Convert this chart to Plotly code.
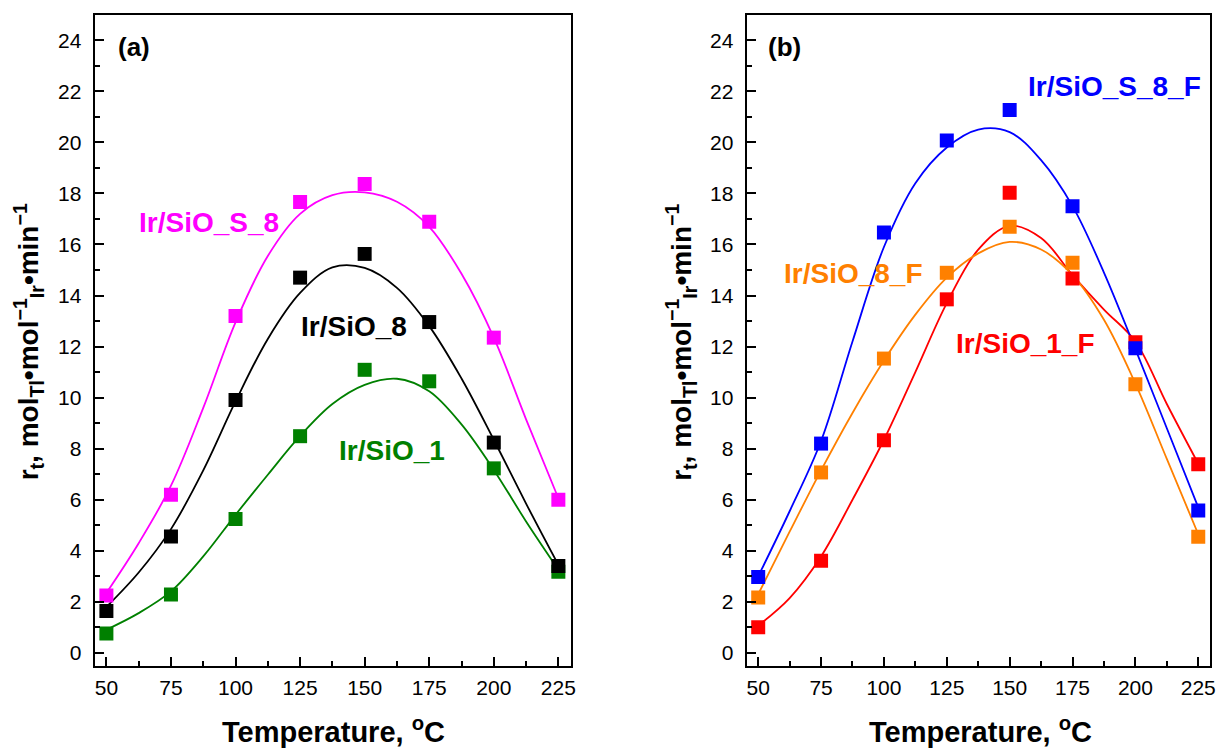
import plotly.graph_objects as go

# ---------------- data ----------------
temps = [50, 75, 100, 125, 150, 175, 200, 225]
fit_temps = [50, 62.5, 75, 87.5, 100, 112.5, 125, 137.5, 150, 162.5, 175, 187.5, 200, 212.5, 225]

# panel (a) measured points
ir_sio_s_8 = [2.25, 6.2, 13.2, 17.66, 18.37, 16.89, 12.35, 6.0]
ir_sio_8 = [1.64, 4.56, 9.91, 14.7, 15.63, 12.96, 8.24, 3.41]
ir_sio_1 = [0.76, 2.29, 5.25, 8.49, 11.09, 10.64, 7.23, 3.18]
# panel (a) fitted curves
fit_s_8 = [2.35, 4.3, 6.55, 9.6, 12.95, 15.55, 17.2, 17.93, 18.04, 17.67, 16.69, 14.85, 12.35, 9.15, 6.06]
fit_8 = [1.8, 3.15, 4.85, 7.15, 9.85, 12.3, 14.1, 15.1, 15.08, 14.3, 12.8, 10.75, 8.35, 5.85, 3.45]
fit_1 = [0.91, 1.56, 2.41, 3.78, 5.41, 6.98, 8.5, 9.75, 10.5, 10.74, 10.25, 8.95, 7.17, 5.15, 3.26]

# panel (b) measured points
ir_sio_s_8_f = [2.97, 8.2, 16.47, 20.07, 21.27, 17.5, 11.93, 5.58]
ir_sio_1_f = [1.01, 3.61, 8.33, 13.85, 18.02, 14.67, 12.17, 7.39]
ir_sio_8_f = [2.17, 7.07, 11.53, 14.89, 16.69, 15.28, 10.52, 4.55]
# panel (b) fitted curves
fit_s_8_f = [3.0, 5.55, 8.3, 12.2, 15.9, 18.4, 19.8, 20.5, 20.4, 19.3, 17.5, 14.9, 11.9, 8.8, 5.7]
fit_1_f = [1.07, 2.15, 3.78, 6.0, 8.35, 11.0, 13.7, 15.8, 16.73, 16.25, 14.8, 13.45, 12.2, 9.75, 7.41]
fit_8_f = [2.3, 4.75, 7.15, 9.4, 11.45, 13.25, 14.7, 15.65, 16.1, 15.8, 14.8, 13.05, 10.55, 7.6, 4.65]

tick_vals_x = [50, 75, 100, 125, 150, 175, 200, 225]
tick_vals_y = [0, 2, 4, 6, 8, 10, 12, 14, 16, 18, 20, 22, 24]

MAGENTA = "#FF00FF"
BLACK = "#000000"
GREEN = "#008000"
BLUE = "#0000FF"
RED = "#FF0000"
ORANGE = "#FF8000"

FONT = "Liberation Sans, Arial, Helvetica, sans-serif"

fig = go.Figure()

panel_a = [
    (ir_sio_s_8, fit_s_8, MAGENTA),
    (ir_sio_1, fit_1, GREEN),
    (ir_sio_8, fit_8, BLACK),
]
panel_b = [
    (ir_sio_1_f, fit_1_f, RED),
    (ir_sio_8_f, fit_8_f, ORANGE),
    (ir_sio_s_8_f, fit_s_8_f, BLUE),
]

for series, xa, ya in [(panel_a, "x", "y"), (panel_b, "x2", "y2")]:
    for pts, fit, col in series:
        fig.add_trace(go.Scatter(x=fit_temps, y=fit, mode="lines",
                                 line=dict(color=col, width=1.8, shape="spline", smoothing=1.0),
                                 xaxis=xa, yaxis=ya, showlegend=False, hoverinfo="skip"))
    for pts, fit, col in series:
        fig.add_trace(go.Scatter(x=temps, y=pts, mode="markers",
                                 marker=dict(symbol="square", size=14, color=col, line=dict(width=0)),
                                 xaxis=xa, yaxis=ya, showlegend=False))

axis_common = dict(showline=True, linewidth=2, linecolor="black", mirror=True,
                   ticks="inside", ticklen=9, tickwidth=2, tickcolor="black",
                   showgrid=False, zeroline=False, automargin=False,
                   tickfont=dict(family=FONT, size=21, color="black"))

xcommon = dict(axis_common, range=[45.4, 229.8], tickmode="array", tickvals=tick_vals_x,
               ticklabelstandoff=2,
               minor=dict(tick0=50, dtick=12.5, ticks="inside", ticklen=5, tickwidth=2,
                          tickcolor="black", showgrid=False))
ycommon = dict(axis_common, range=[-0.5, 25], tickmode="array", tickvals=tick_vals_y,
               ticklabelstandoff=7,
               minor=dict(tick0=0, dtick=1, ticks="inside", ticklen=5, tickwidth=2,
                          tickcolor="black", showgrid=False))

ydom = [0.1100, 0.9804]
fig.update_layout(
    width=1218, height=748,
    margin=dict(l=0, r=0, t=0, b=0),
    plot_bgcolor="white", paper_bgcolor="white",
    showlegend=False,
    font=dict(family=FONT, size=21, color="black"),
    xaxis=dict(xcommon, domain=[0.0776, 0.4686], anchor="y"),
    yaxis=dict(ycommon, domain=ydom, anchor="x"),
    xaxis2=dict(xcommon, domain=[0.6130, 0.9937], anchor="y2"),
    yaxis2=dict(ycommon, domain=ydom, anchor="x2"),
)

ann = []
def label(text, x, y, xref, yref, col, size=28):
    ann.append(dict(text="<b>%s</b>" % text, x=x, y=y, xref=xref, yref=yref,
                    xanchor="center", yanchor="middle", showarrow=False,
                    font=dict(family=FONT, size=size, color=col)))

label("(a)", 60.5, 23.72, "x", "y", BLACK, 26)
label("(b)", 60.6, 23.72, "x2", "y2", BLACK, 26)
label("Ir/SiO_S_8", 89.7, 16.85, "x", "y", MAGENTA)
label("Ir/SiO_8", 145.7, 12.78, "x", "y", BLACK)
label("Ir/SiO_1", 160.6, 7.93, "x", "y", GREEN)
label("Ir/SiO_S_8_F", 191.7, 22.2, "x2", "y2", BLUE)
label("Ir/SiO_8_F", 88.0, 14.87, "x2", "y2", ORANGE)
label("Ir/SiO_1_F", 156.4, 12.12, "x2", "y2", RED)

xtitle = "<b>Temperature, <sup>o</sup>C</b>"
for xc in [0.2734, 0.8046]:
    ann.append(dict(text=xtitle, x=xc, y=0.0235, xref="paper", yref="paper",
                    xanchor="center", yanchor="middle", showarrow=False,
                    font=dict(family=FONT, size=29, color="black")))

ytitle = "<b>r<sub>t</sub>, mol<sub>Tl</sub>•mol<sup>−1</sup><sub>Ir</sub>•min<sup>−1</sup></b>"
for xc in [0.0234, 0.5591]:
    ann.append(dict(text=ytitle, x=xc, y=0.543, xref="paper", yref="paper",
                    xanchor="center", yanchor="middle", showarrow=False, textangle=-90,
                    font=dict(family=FONT, size=28, color="black")))

fig.update_layout(annotations=ann)
fig.write_html("out.html")
